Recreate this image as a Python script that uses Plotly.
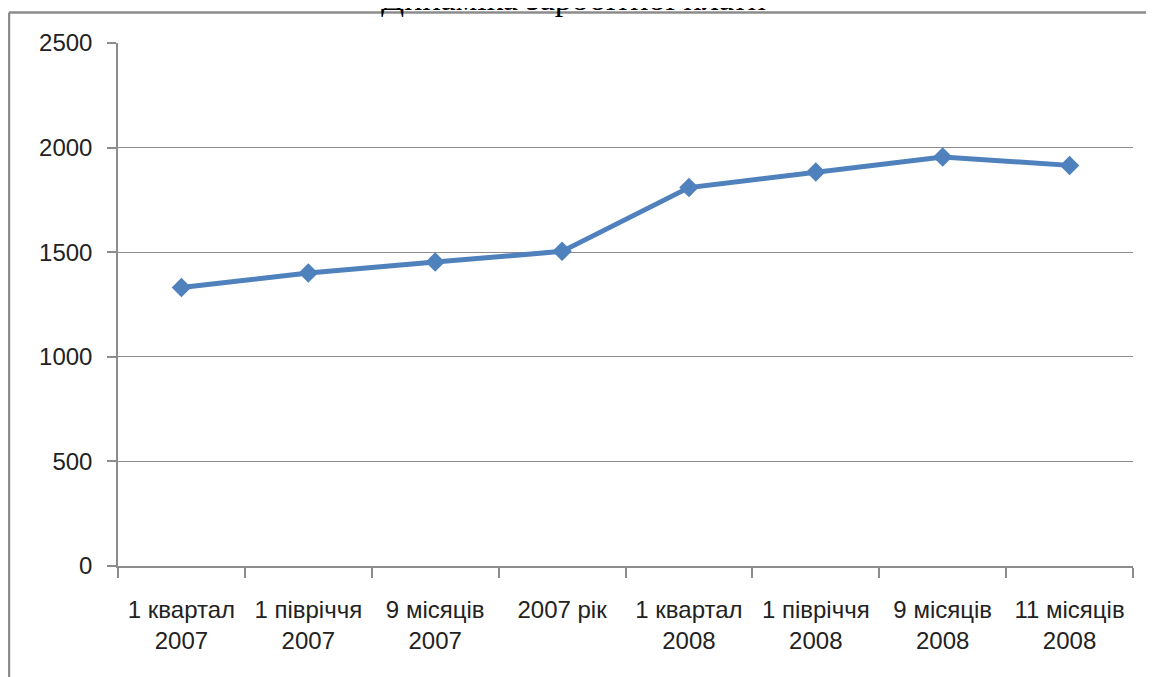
import plotly.graph_objects as go

categories = ["1 квартал<br>2007", "1 півріччя<br>2007", "9 місяців<br>2007", "2007 рік",
              "1 квартал<br>2008", "1 півріччя<br>2008", "9 місяців<br>2008", "11 місяців<br>2008"]
values = [1331, 1401, 1453, 1504, 1809, 1883, 1955, 1915]
title_text = "Динаміка заробітної плати"

# the page body adds an 8px offset; compensate in figure coordinates
OFF = 8
W, H = 1154 - OFF, 677 - OFF
L, T = 118 - OFF, 43 - OFF
R = W - (1133 - OFF)
B = H - (566 - OFF)
pw, ph = W - L - R, H - T - B

fig = go.Figure()
fig.add_trace(go.Scatter(
    x=categories, y=values, mode="lines+markers",
    line=dict(color="#4F81BD", width=5),
    marker=dict(symbol="diamond", size=15, color="#4F81BD"),
    showlegend=False, cliponaxis=False,
))

axis_font = dict(family="Liberation Sans, Arial, sans-serif", size=24, color="#222222")

fig.update_layout(
    width=W, height=H,
    margin=dict(l=L, r=R, t=T, b=B),
    paper_bgcolor="white", plot_bgcolor="white",
    xaxis=dict(
        type="category", tickson="boundaries", ticks="outside", ticklen=10,
        tickcolor="#8c8c8c", tickwidth=1.5,
        showline=True, linecolor="#8c8c8c", linewidth=1.5,
        showgrid=False, tickfont=axis_font, range=[-0.5, 7.5],
        ticklabelstandoff=21,
    ),
    yaxis=dict(
        range=[0, 2500], dtick=500, ticks="outside", ticklen=9,
        tickcolor="#8c8c8c", tickwidth=1.5,
        showline=True, linecolor="#8c8c8c", linewidth=1.5,
        showgrid=True, gridcolor="#8c8c8c", gridwidth=1.2,
        zeroline=False, tickfont=axis_font, ticklabelstandoff=10,
    ),
    font=axis_font,
)

# outer frame: left and top edges (the rest lies beyond the visible page)
fx = (9 - OFF - L) / pw
fy = 1 + (T - (12.5 - OFF)) / ph
frame = dict(color="#8c8c8c", width=2.5)
fig.add_shape(type="line", xref="paper", yref="paper", x0=fx, x1=fx, y0=-0.6, y1=fy,
              line=frame, layer="below")
fig.add_shape(type="line", xref="paper", yref="paper", x0=fx, x1=1.3, y0=fy, y1=fy,
              line=frame, layer="below")

fig.add_annotation(text=title_text, xref="paper", yref="paper",
                   x=(573 - OFF - L) / pw, y=1 + (T - 11) / ph, xanchor="center", yanchor="bottom",
                   showarrow=False,
                   font=dict(family="Liberation Serif, Times New Roman, serif", size=34, color="black"))

fig.write_html("out.html", config={"displayModeBar": False})
